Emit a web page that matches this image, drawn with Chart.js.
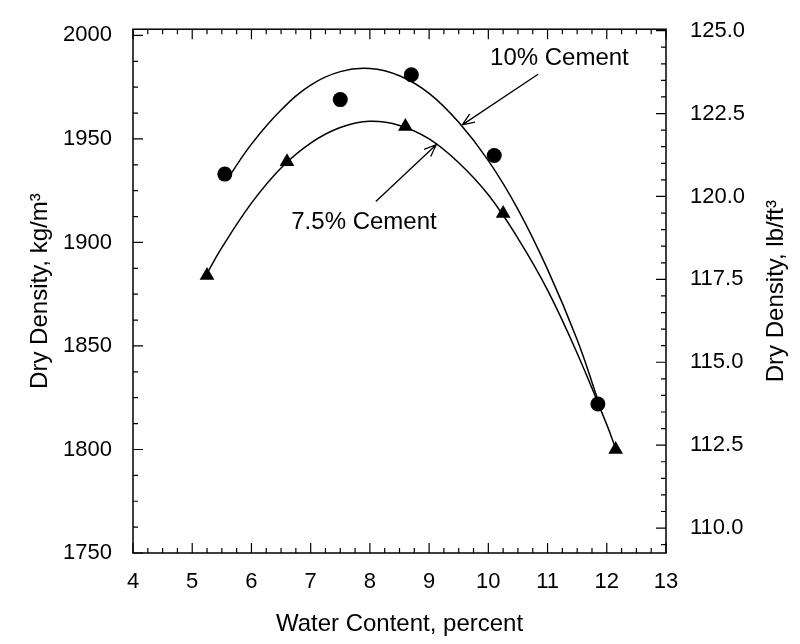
<!DOCTYPE html>
<html><head><meta charset="utf-8">
<script src="https://cdn.jsdelivr.net/npm/chart.js@4/dist/chart.umd.min.js"></script>
<style>html,body{margin:0;padding:0;background:#fff}#wrap{width:800px;height:644px;position:relative}canvas{display:block}</style>
</head><body><div id="wrap"><canvas id="c" width="800" height="644" style="width:800px;height:644px"></canvas></div>
<script>
// ---- data ----
const water10   = [5.55, 7.5, 8.7, 10.1, 11.85];
const density10 = [1933, 1969, 1981, 1942, 1822];
const water75   = [5.25, 6.6, 8.6, 10.25, 12.15];
const density75 = [1884, 1939, 1956, 1914, 1800];
// fitted curves
const curveX10 = [5.58, 6.0, 6.5, 7.0, 7.5, 8.0, 8.5, 9.0, 9.5, 10.0, 10.5, 11.0, 11.5, 11.85];
const curveY10 = [1930, 1947.5, 1964, 1976, 1982.5, 1984, 1980.5, 1972, 1958, 1939.5, 1916, 1887, 1853, 1824];
const curveX75 = [5.25, 5.5, 6.0, 6.5, 7.0, 7.5, 8.0, 8.5, 9.0, 9.5, 10.0, 10.5, 11.0, 11.5, 12.0, 12.15];
const curveY75 = [1885, 1897.5, 1919, 1936, 1948, 1955.5, 1958.5, 1956.5, 1950, 1938.5, 1923, 1902, 1877, 1846.5, 1812, 1800.5];
// tick labels
const xTickValues  = [4, 5, 6, 7, 8, 9, 10, 11, 12, 13];
const kgTickValues = [1750, 1800, 1850, 1900, 1950, 2000];
const lbTickValues = [110.0, 112.5, 115.0, 117.5, 120.0, 122.5, 125.0];
const labels = ['10% Cement', '7.5% Cement'];
const KG_TO_LB = 0.062428;

// annotation anchors (data units)
const notes = [
  {text: labels[0], x: 11.2, y: 1988.8, fx: 10.84, fy: 1981.2, tx: 9.56, ty: 1956.8},
  {text: labels[1], x: 7.9,  y: 1909.8, fx: 8.10,  fy: 1919.8, tx: 9.12, ty: 1947.2}
];

const FONT = '"Liberation Sans", Arial, Helvetica, sans-serif';
const TICK_PX = 22, TITLE_PX = 24;
const zip = (xs, ys) => xs.map((x, i) => ({x, y: ys[i]}));

const overlay = {
  id: 'overlay',
  afterDraw(chart) {
    const ctx = chart.ctx, a = chart.chartArea;
    const sx = chart.scales.x, sy = chart.scales.y, sy2 = chart.scales.y2;
    ctx.save();
    ctx.strokeStyle = '#000';
    ctx.lineWidth = 1.5;
    ctx.strokeRect(a.left, a.top, a.right - a.left, a.bottom - a.top);
    ctx.lineWidth = 1.2;
    const MAJ = 10, MIN = 5;
    ctx.beginPath();
    for (let v = 4; v <= 13.0001; v += 0.25) {
      const px = sx.getPixelForValue(v);
      const len = Math.abs(v - Math.round(v)) < 1e-6 ? MAJ : MIN;
      ctx.moveTo(px, a.bottom); ctx.lineTo(px, a.bottom - len);
      ctx.moveTo(px, a.top); ctx.lineTo(px, a.top + len);
    }
    for (let v = 1750; v <= 2000.0001; v += 12.5) {
      const py = sy.getPixelForValue(v);
      const len = Math.abs(v / 50 - Math.round(v / 50)) < 1e-6 ? MAJ : MIN;
      ctx.moveTo(a.left, py); ctx.lineTo(a.left + len, py);
    }
    for (let v = 109.5; v <= 125.0001; v += 0.5) {
      const py = sy2.getPixelForValue(v);
      const len = Math.abs(v / 2.5 - Math.round(v / 2.5)) < 1e-6 ? MAJ : MIN;
      ctx.moveTo(a.right, py); ctx.lineTo(a.right - len, py);
    }
    ctx.stroke();

    ctx.fillStyle = '#000';
    ctx.font = TITLE_PX + 'px ' + FONT;
    ctx.textAlign = 'center';
    ctx.textBaseline = 'middle';
    ctx.lineWidth = 1.3;
    notes.forEach(n => {
      ctx.fillText(n.text, sx.getPixelForValue(n.x), sy.getPixelForValue(n.y));
      const x1 = sx.getPixelForValue(n.fx), y1 = sy.getPixelForValue(n.fy);
      const x2 = sx.getPixelForValue(n.tx), y2 = sy.getPixelForValue(n.ty);
      ctx.beginPath();
      ctx.moveTo(x1, y1); ctx.lineTo(x2, y2);
      const ang = Math.atan2(y2 - y1, x2 - x1), L = 13, w = 0.38;
      ctx.moveTo(x2 - L * Math.cos(ang - w), y2 - L * Math.sin(ang - w));
      ctx.lineTo(x2, y2);
      ctx.lineTo(x2 - L * Math.cos(ang + w), y2 - L * Math.sin(ang + w));
      ctx.stroke();
    });

    ctx.save();
    ctx.translate(776, (a.top + a.bottom) / 2);
    ctx.rotate(-Math.PI / 2);
    ctx.font = TITLE_PX + 'px ' + FONT;
    ctx.fillText('Dry Density, lb/ft\u00B3', 0, 0);
    ctx.restore();
    ctx.restore();
  }
};

new Chart(document.getElementById('c'), {
  type: 'scatter',
  data: {
    datasets: [
      {label: labels[0] + ' fit', data: zip(curveX10, curveY10), showLine: true, borderColor: '#000', borderWidth: 1.5, pointRadius: 0, tension: 0.4, fill: false},
      {label: labels[1] + ' fit', data: zip(curveX75, curveY75), showLine: true, borderColor: '#000', borderWidth: 1.5, pointRadius: 0, tension: 0.4, fill: false},
      {label: labels[0], data: zip(water10, density10), pointStyle: 'circle', pointRadius: 7.5, backgroundColor: '#000', borderColor: '#000', borderWidth: 0},
      {label: labels[1], data: zip(water75, density75), pointStyle: 'triangle', pointRadius: 8.5, backgroundColor: '#000', borderColor: '#000', borderWidth: 0}
    ]
  },
  options: {
    responsive: false,
    maintainAspectRatio: false,
    animation: false,
    devicePixelRatio: 1,
    layout: {padding: {top: 18, left: 0, right: 0, bottom: 0}},
    plugins: {legend: {display: false}, tooltip: {enabled: false}},
    scales: {
      x: {
        type: 'linear', min: 4, max: 13, position: 'bottom',
        grid: {display: false}, border: {display: false},
        afterBuildTicks: s => { s.ticks = xTickValues.map(v => ({value: v})); },
        afterFit: s => { s.height = 91; },
        ticks: {autoSkip: false, color: '#000', font: {family: FONT, size: TICK_PX}, padding: 8, maxRotation: 0, callback: v => String(v)},
        title: {display: true, text: 'Water Content, percent', color: '#000', font: {family: FONT, size: TITLE_PX}, padding: {top: 0, bottom: 5}}
      },
      y: {
        type: 'linear', min: 1750, max: 2003, position: 'left',
        grid: {display: false}, border: {display: false},
        afterBuildTicks: s => { s.ticks = kgTickValues.map(v => ({value: v})); },
        afterFit: s => { s.width = 133; },
        ticks: {autoSkip: false, color: '#000', font: {family: FONT, size: TICK_PX}, padding: 13, callback: v => String(v)},
        title: {display: true, text: 'Dry Density, kg/m\u00B3', color: '#000', font: {family: FONT, size: TITLE_PX}, padding: {top: 26, bottom: 0}}
      },
      y2: {
        type: 'linear', min: 1750 * KG_TO_LB, max: 2003 * KG_TO_LB, position: 'right',
        grid: {display: false}, border: {display: false},
        afterBuildTicks: s => { s.ticks = lbTickValues.map(v => ({value: v})); },
        afterFit: s => { s.width = 134; },
        ticks: {autoSkip: false, color: '#000', font: {family: FONT, size: TICK_PX}, padding: 16, callback: v => Number(v).toFixed(1)}
      }
    }
  },
  plugins: [overlay]
});
</script>
</body></html>
